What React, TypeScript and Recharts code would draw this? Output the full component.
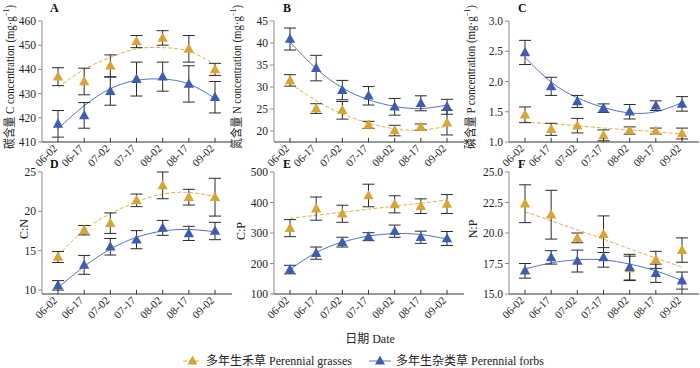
import React from 'react';
import { ComposedChart, Line, XAxis, YAxis, ErrorBar } from 'recharts';

const FONT = "'Liberation Serif','Times New Roman','Noto Sans CJK SC',serif";
const GOLD = '#D6A536';
const BLUE = '#3F5DAE';
const GOLD_LINE = '#E0B04A';
const BLUE_LINE = '#5273C2';
const BAR = '#2a2a2a';

const dates = ['06-02', '06-17', '07-02', '07-17', '08-02', '08-17', '09-02'];

// A: C concentration
const cGrass = [437, 435, 441.5, 451.5, 453, 448.5, 440];
const cGrassErr = [3.7, 5.5, 4.5, 2.5, 3, 5.5, 2.5];
const cGrassFit = [432.5, 440, 445, 448.5, 449, 447.5, 442];
const cForb = [417.5, 421, 431, 436, 437, 434, 428.5];
const cForbErr = [5.5, 5.3, 5.8, 7, 6, 7.5, 6.5];
const cForbFit = [415.5, 425, 432, 435.5, 436, 434, 428];

// B: N concentration
const nGrass = [31.5, 25.1, 24.7, 21.4, 20.1, 20.9, 21.9];
const nGrassErr = [1.3, 1.1, 2.0, 0.8, 1.2, 0.7, 2.8];
const nGrassFit = [30.8, 26.9, 23.9, 21.8, 20.5, 20.2, 21.1];
const nForb = [40.9, 34.3, 29.3, 28.0, 25.5, 26.3, 25.5];
const nForbErr = [2.5, 2.9, 2.2, 2.1, 1.9, 1.7, 1.7];
const nForbFit = [40.2, 34.2, 29.8, 27.1, 25.6, 25.1, 25.9];

// C: P concentration
const pGrass = [1.45, 1.21, 1.27, 1.11, 1.19, 1.18, 1.14];
const pGrassErr = [0.13, 0.1, 0.12, 0.09, 0.06, 0.05, 0.09];
const pGrassFit = [1.33, 1.3, 1.27, 1.23, 1.2, 1.17, 1.13];
const pForb = [2.48, 1.92, 1.67, 1.56, 1.5, 1.6, 1.63];
const pForbErr = [0.2, 0.15, 0.1, 0.07, 0.12, 0.08, 0.12];
const pForbFit = [2.4, 1.99, 1.73, 1.57, 1.48, 1.5, 1.65];

// D: C:N
const cnGrass = [14.2, 17.6, 18.5, 21.4, 23.3, 21.8, 21.8];
const cnGrassErr = [0.7, 0.6, 1.3, 0.8, 1.7, 1.0, 2.4];
const cnGrassFit = [14.4, 17.6, 19.7, 21.2, 22.2, 22.4, 21.9];
const cnForb = [10.6, 13.2, 15.5, 16.4, 17.9, 17.2, 17.5];
const cnForbErr = [0.6, 1.2, 1.05, 1.15, 0.95, 0.9, 1.1];
const cnForbFit = [10.3, 13.0, 15.2, 16.7, 17.5, 17.7, 17.4];

// E: C:P
const cpGrass = [316, 380, 363, 423, 394, 388, 395];
const cpGrassErr = [28, 38, 28, 37, 28, 24, 31];
const cpGrassFit = [348, 358, 368, 378, 388, 398, 408];
const cpForb = [180, 234, 270, 288, 306, 286, 282];
const cpForbErr = [14, 20, 16, 13, 20, 20, 23];
const cpForbFit = [180, 236, 270, 290, 298, 295, 280];

// F: N:P
const npGrass = [22.4, 21.5, 19.6, 19.9, 17.1, 17.8, 18.6];
const npGrassErr = [1.55, 2.0, 0.4, 1.5, 1.0, 0.7, 1.0];
const npGrassFit = [21.75, 21.0, 20.25, 19.5, 18.7, 17.95, 17.2];
const npForb = [16.9, 18.0, 17.7, 18.0, 17.2, 16.7, 16.1];
const npForbErr = [0.6, 0.55, 0.9, 0.8, 1.05, 0.75, 0.7];
const npForbFit = [17.05, 17.55, 17.8, 17.8, 17.45, 16.9, 16.1];

// axis ticks
const ticksA = [410, 420, 430, 440, 450, 460];
const ticksB = [20, 25, 30, 35, 40, 45];
const ticksC = [1.0, 1.5, 2.0, 2.5, 3.0];
const ticksD = [10, 15, 20, 25];
const ticksE = [100, 200, 300, 400, 500];
const ticksF = [15, 17.5, 20, 22.5, 25];

const legendGrass = '多年生禾草 Perennial grasses';
const legendForb = '多年生杂类草 Perennial forbs';
const xTitle = '日期 Date';

function buildRows(g: number[], gE: number[], gF: number[], f: number[], fE: number[], fF: number[]) {
  return dates.map((d, i) => ({ date: d, g: g[i], gErr: gE[i], gFit: gF[i], f: f[i], fErr: fE[i], fFit: fF[i] }));
}

const makeTri = (color: string) => (props: any) => {
  const { cx, cy, index } = props;
  if (cx == null || cy == null) return <g key={`e${index}`} />;
  return (
    <path
      key={`t${index}`}
      d={`M${cx},${cy - 5.5} L${cx + 5.2},${cy + 3.8} L${cx - 5.2},${cy + 3.8} Z`}
      fill={color}
    />
  );
};

const XTick = (props: any) => {
  const { x, y, payload } = props;
  const tx = x;
  const ty = y + 7;
  return (
    <g>
      <line x1={x} x2={x} y1={y} y2={y - 4} stroke="#333" strokeWidth={1} />
      <text
        x={tx}
        y={ty}
        textAnchor="end"
        fontSize={11}
        fontFamily={FONT}
        fill="#222"
        transform={`rotate(-45 ${tx} ${ty})`}
      >
        {payload.value}
      </text>
    </g>
  );
};

type PanelProps = {
  rows: any[];
  left: number;
  top: number;
  height: number;
  marginTop: number;
  domain: [number, number];
  ticks: number[];
  fmt?: (v: number) => string;
};

function Panel({ rows, left, top, height, marginTop, domain, ticks, fmt }: PanelProps) {
  return (
    <div style={{ position: 'absolute', left, top }}>
      <ComposedChart
        width={233}
        height={height}
        data={rows}
        margin={{ top: marginTop, right: 1, bottom: 0, left: 0 }}
      >
        <XAxis
          dataKey="date"
          scale="point"
          padding={{ left: 16, right: 17 }}
          height={28}
          tickSize={0}
          tickMargin={0}
          tickLine={false}
          axisLine={{ stroke: '#333' }}
          tick={<XTick />}
          interval={0}
        />
        <YAxis
          type="number"
          width={42}
          domain={domain}
          ticks={ticks}
          allowDataOverflow
          tickFormatter={fmt}
          tickSize={4}
          tickMargin={2}
          axisLine={{ stroke: '#8a8a8a' }}
          tickLine={{ stroke: '#8a8a8a' }}
          tick={{ fontSize: 11.5, fill: '#222', fontFamily: FONT }}
          interval={0}
        />
        <Line
          dataKey="gFit"
          type="natural"
          stroke={GOLD_LINE}
          strokeDasharray="4 2"
          strokeWidth={1}
          dot={false}
          activeDot={false}
          isAnimationActive={false}
        />
        <Line
          dataKey="fFit"
          type="natural"
          stroke={BLUE_LINE}
          strokeWidth={1}
          dot={false}
          activeDot={false}
          isAnimationActive={false}
        />
        <Line dataKey="g" stroke="none" dot={makeTri(GOLD)} activeDot={false} isAnimationActive={false}>
          <ErrorBar dataKey="gErr" width={6} stroke={BAR} strokeWidth={1} direction="y" />
        </Line>
        <Line dataKey="f" stroke="none" dot={makeTri(BLUE)} activeDot={false} isAnimationActive={false}>
          <ErrorBar dataKey="fErr" width={6} stroke={BAR} strokeWidth={1} direction="y" />
        </Line>
      </ComposedChart>
    </div>
  );
}

const fmt1 = (v: number) => v.toFixed(1);

function YTitle({ x, y, main, sup, len }: { x: number; y: number; main: string; sup?: boolean; len?: number }) {
  const extra = len ? { textLength: len, lengthAdjust: 'spacingAndGlyphs' } : {};
  return (
    <text
      x={x}
      y={y}
      transform={`rotate(-90 ${x} ${y})`}
      textAnchor="middle"
      dominantBaseline="central"
      fontSize={12}
      fontFamily={FONT}
      fill="#222"
      {...(extra as any)}
    >
      {main}
      {sup ? (
        <>
          <tspan>(mg·g</tspan>
          <tspan dy={-4} fontSize={8}>−1</tspan>
          <tspan dy={4}>)</tspan>
        </>
      ) : null}
    </text>
  );
}

export default function App() {
  const rowsA = buildRows(cGrass, cGrassErr, cGrassFit, cForb, cForbErr, cForbFit);
  const rowsB = buildRows(nGrass, nGrassErr, nGrassFit, nForb, nForbErr, nForbFit);
  const rowsC = buildRows(pGrass, pGrassErr, pGrassFit, pForb, pForbErr, pForbFit);
  const rowsD = buildRows(cnGrass, cnGrassErr, cnGrassFit, cnForb, cnForbErr, cnForbFit);
  const rowsE = buildRows(cpGrass, cpGrassErr, cpGrassFit, cpForb, cpForbErr, cpForbFit);
  const rowsF = buildRows(npGrass, npGrassErr, npGrassFit, npForb, npForbErr, npForbFit);

  return (
    <div
      style={{
        position: 'absolute',
        left: 0,
        top: 0,
        width: 700,
        height: 368,
        background: '#fff',
        overflow: 'hidden',
        fontFamily: FONT,
      }}
    >
      <Panel rows={rowsA} left={0} top={0} height={170} marginTop={21} domain={[410, 460]} ticks={ticksA} />
      <Panel rows={rowsB} left={232} top={0} height={170} marginTop={21} domain={[17.5, 45]} ticks={ticksB} />
      <Panel rows={rowsC} left={467} top={0} height={170} marginTop={21} domain={[1, 3]} ticks={ticksC} fmt={fmt1} />
      <Panel rows={rowsD} left={0} top={150} height={172} marginTop={22} domain={[9.5, 25]} ticks={ticksD} />
      <Panel rows={rowsE} left={232} top={150} height={172} marginTop={22} domain={[100, 500]} ticks={ticksE} />
      <Panel rows={rowsF} left={467} top={150} height={172} marginTop={22} domain={[15, 25]} ticks={ticksF} fmt={fmt1} />

      <svg
        width={700}
        height={368}
        style={{ position: 'absolute', left: 0, top: 0, pointerEvents: 'none' }}
      >
        <g fontFamily={FONT} fontWeight="bold" fontSize={12} fill="#111">
          <text x={50} y={12}>A</text>
          <text x={283} y={12}>B</text>
          <text x={518} y={12}>C</text>
          <text x={50} y={168}>D</text>
          <text x={283} y={168}>E</text>
          <text x={518} y={168}>F</text>
        </g>
        <YTitle x={10} y={77} main="碳含量 C concentration " sup len={144} />
        <YTitle x={237} y={77} main="氮含量 N concentration " sup len={144} />
        <YTitle x={471} y={77} main="磷含量 P concentration " sup len={144} />
        <YTitle x={24} y={229} main="C:N" />
        <YTitle x={241} y={231} main="C:P" />
        <YTitle x={473} y={229} main="N:P" />

        <text x={370} y={343} textAnchor="middle" fontSize={12} fontFamily={FONT} fill="#222">
          {xTitle}
        </text>

        <g>
          <line x1={183} x2={202} y1={361} y2={361} stroke={GOLD_LINE} strokeWidth={1} strokeDasharray="4 2" />
          <path d="M192.5,355.5 L197.5,364.5 L187.5,364.5 Z" fill={GOLD} />
          <text x={206} y={365} fontSize={12} fontFamily={FONT} fill="#222">{legendGrass}</text>
          <line x1={369} x2={391} y1={361} y2={361} stroke={BLUE_LINE} strokeWidth={1} />
          <path d="M380,355.5 L385,364.5 L375,364.5 Z" fill={BLUE} />
          <text x={396} y={365} fontSize={12} fontFamily={FONT} fill="#222">{legendForb}</text>
        </g>
      </svg>
    </div>
  );
}
